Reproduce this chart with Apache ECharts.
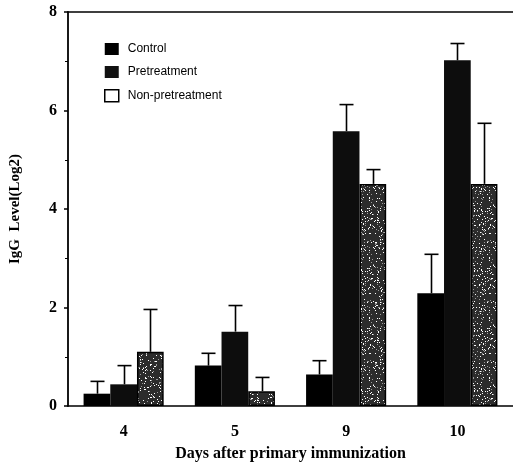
<!DOCTYPE html>
<html>
<head>
<meta charset="utf-8">
<script src="https://cdn.jsdelivr.net/npm/echarts@6/dist/echarts.min.js"></script>
<style>
  html, body { margin: 0; padding: 0; background: #fff; }
  #chart { width: 513px; height: 467px; }
</style>
</head>
<body>
<div id="chart"></div>
<script>
var days = ['4', '5', '9', '10'];
var seriesNames = ['Control', 'Pretreatment', 'Non-pretreatment'];
var control = [0.25, 0.82, 0.64, 2.29];
var controlErr = [0.25, 0.25, 0.28, 0.79];
var pretreat = [0.44, 1.51, 5.58, 7.02];
var pretreatErr = [0.38, 0.53, 0.54, 0.34];
var nonPretreat = [1.1, 0.3, 4.51, 4.51];
var nonPretreatErr = [0.86, 0.28, 0.29, 1.23];
var yTicks = [0, 2, 4, 6, 8];

var serif = '"Liberation Serif", "DejaVu Serif", serif';

// speckled fill like the scanned print
function speckle() {
    var n = 60;
    var c = document.createElement('canvas');
    c.width = n; c.height = n;
    var ctx = c.getContext('2d');
    ctx.fillStyle = '#2c2c2c';
    ctx.fillRect(0, 0, n, n);
    var s = 11;
    for (var i = 0; i < 420; i++) {
        s = (s * 1103515245 + 12345) % 2147483648;
        var x = Math.floor(s / 2147483648 * n);
        s = (s * 1103515245 + 12345) % 2147483648;
        var y = Math.floor(s / 2147483648 * n);
        ctx.fillStyle = i % 3 ? '#fff' : '#999';
        ctx.fillRect(x, y, 1, 1);
    }
    return c;
}

var chart = echarts.init(document.getElementById('chart'), null, { renderer: 'canvas' });

var barW = 0.24;
function errSeries(idx, vals, errs) {
    return {
        type: 'custom',
        z: 5,
        silent: true,
        data: vals.map(function (v, i) { return [i, v, errs[i]]; }),
        renderItem: function (params, api) {
            var band = api.size([1, 0])[0];
            var off = (idx - 1) * band * barW;
            var base = api.coord([api.value(0), api.value(1)]);
            var top = api.coord([api.value(0), api.value(1) + api.value(2)]);
            var x = Math.round(base[0] + off) + 0.5;
            var cap = 7;
            var st = { stroke: '#000', lineWidth: 1.6 };
            return {
                type: 'group',
                children: [
                    { type: 'line', shape: { x1: x, y1: base[1], x2: x, y2: top[1] }, style: st },
                    { type: 'line', shape: { x1: x - cap, y1: top[1], x2: x + cap, y2: top[1] }, style: st }
                ]
            };
        }
    };
}

var option = {
    backgroundColor: '#fff',
    animation: false,
    grid: { left: 67, right: -1, top: 12, bottom: 57 },
    legend: {
        orient: 'vertical',
        left: 99,
        top: 38,
        icon: 'rect',
        itemWidth: 14,
        itemHeight: 12,
        itemGap: 11,
        textStyle: { fontFamily: '"Liberation Sans", Arial, sans-serif', fontSize: 12, color: '#000', padding: [0, 0, 0, 4] },
        data: [
            { name: 'Control', itemStyle: { color: '#000' } },
            { name: 'Pretreatment', itemStyle: { color: '#111' } },
            { name: 'Non-pretreatment', itemStyle: { color: '#fff', borderColor: '#000', borderWidth: 1.5 } }
        ]
    },
    xAxis: [{
        type: 'category',
        data: days,
        name: 'Days after primary immunization',
        nameLocation: 'middle',
        nameGap: 40,
        nameTextStyle: { fontFamily: serif, fontWeight: 'bold', fontSize: 16, color: '#000' },
        axisLine: { lineStyle: { color: '#000', width: 1.5 } },
        axisTick: { length: 4, lineStyle: { color: '#000', width: 1.5 } },
        axisLabel: { margin: 18, fontFamily: serif, fontWeight: 'bold', fontSize: 16, color: '#000' }
    }, {
        type: 'category',
        data: days,
        position: 'top',
        axisLine: { lineStyle: { color: '#000', width: 1.5 } },
        axisTick: { show: false },
        axisLabel: { show: false }
    }],
    yAxis: {
        type: 'value',
        min: yTicks[0],
        max: yTicks[yTicks.length - 1],
        interval: 2,
        name: 'IgG  Level(Log2)',
        nameLocation: 'middle',
        nameGap: 45,
        nameTextStyle: { fontFamily: serif, fontWeight: 'bold', fontSize: 15, color: '#000' },
        axisLine: { show: true, lineStyle: { color: '#000', width: 1.8 } },
        axisTick: { show: true, length: 4, lineStyle: { color: '#000', width: 1.5 } },
        minorTick: { show: true, splitNumber: 2, length: 3, lineStyle: { color: '#000', width: 1 } },
        splitLine: { show: false },
        axisLabel: { margin: 11, fontFamily: serif, fontWeight: 'bold', fontSize: 16, color: '#000' }
    },
    series: [
        {
            name: 'Control', type: 'bar', data: control,
            barWidth: '24%', barGap: '0%',
            itemStyle: { color: '#000' }
        },
        {
            name: 'Pretreatment', type: 'bar', data: pretreat,
            barWidth: '24%', barGap: '0%',
            itemStyle: { color: '#0d0d0d' }
        },
        {
            name: 'Non-pretreatment', type: 'bar', data: nonPretreat,
            barWidth: '24%', barGap: '0%',
            itemStyle: { color: { image: speckle(), repeat: 'repeat' }, borderColor: '#000', borderWidth: 1.5 }
        },
        errSeries(0, control, controlErr),
        errSeries(1, pretreat, pretreatErr),
        errSeries(2, nonPretreat, nonPretreatErr)
    ]
};
chart.setOption(option);
</script>
</body>
</html>
